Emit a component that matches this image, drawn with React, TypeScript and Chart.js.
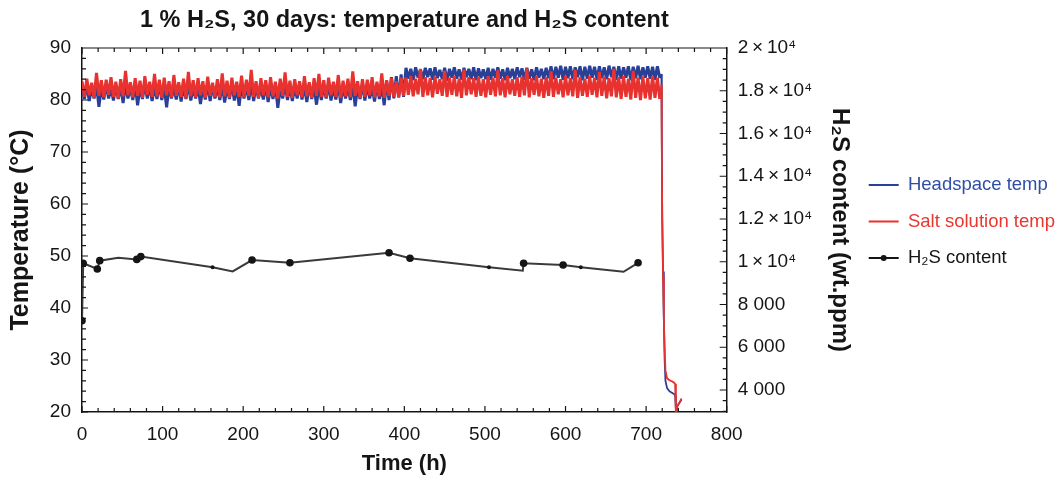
import { useEffect, useRef } from 'react';
import { Chart, registerables } from 'chart.js';

Chart.register(...registerables);

// ---------- data ----------
const sampleStepH = 3; // logged every 3 h, 0 .. 717 h

const saltTemp = [
  83.6, 80.6, 84.1, 80.9, 83.3, 80.4, 85.2, 80.8, 83.8, 80.5,
  83.9, 81.0, 84.4, 80.6, 83.5, 80.3, 84.0, 80.7, 85.6, 80.9,
  83.4, 80.5, 84.2, 80.8, 83.7, 80.4, 84.6, 81.0, 83.5, 80.6,
  85.0, 80.7, 83.9, 80.4, 84.3, 80.9, 83.6, 80.5, 84.8, 80.8,
  83.4, 80.6, 84.1, 80.3, 85.4, 80.7, 83.8, 80.5, 84.2, 80.9,
  83.6, 80.4, 84.5, 80.8, 83.3, 80.6, 84.0, 80.5, 85.1, 80.7,
  83.7, 80.4, 84.3, 80.9, 83.5, 80.6, 84.7, 80.5, 83.9, 80.8,
  85.8, 80.6, 83.6, 80.4, 84.2, 80.9, 83.8, 80.5, 84.4, 80.7,
  83.5, 80.3, 84.1, 80.8, 85.3, 80.6, 83.7, 80.4, 84.0, 80.9,
  83.6, 80.5, 84.6, 80.7, 83.4, 80.4, 84.2, 80.8, 85.0, 80.6,
  83.8, 80.5, 84.3, 80.9, 83.5, 80.6, 84.8, 80.4, 83.7, 80.7,
  84.1, 80.5, 85.5, 80.8, 83.6, 80.4, 84.0, 80.6, 83.9, 80.9,
  84.4, 80.5, 83.5, 80.7, 85.1, 80.4, 83.8, 80.8, 84.2, 80.6,
  83.6, 80.5, 84.3, 80.8,
  84.3, 81.0, 84.6, 80.7, 84.1, 81.1, 86.0, 80.6, 84.4, 80.9,
  84.2, 80.5, 84.5, 81.2, 84.0, 80.8, 85.6, 80.6, 84.3, 81.0,
  84.6, 80.7, 84.1, 80.4, 85.9, 80.9, 84.4, 81.1, 84.2, 80.6,
  84.5, 80.8, 84.0, 80.5, 84.6, 81.0, 84.3, 80.7, 85.7, 80.9,
  84.2, 80.5, 84.6, 81.1, 84.0, 80.8, 84.4, 80.6, 84.5, 80.9,
  86.1, 80.5, 84.2, 81.0, 84.6, 80.7, 84.1, 80.4, 84.4, 80.8,
  85.5, 80.6, 84.3, 81.1, 84.0, 80.5, 84.6, 80.9, 84.2, 80.7,
  85.8, 80.4, 84.4, 80.8, 84.1, 80.6, 84.6, 81.0, 84.3, 80.5,
  85.4, 80.8, 84.5, 80.3, 84.2, 80.7, 86.0, 80.5, 84.4, 80.2,
  84.6, 80.6, 84.1, 80.1, 85.6, 80.4, 84.3, 80.0, 84.5, 80.3,
  84.2, 80.1, 84.6, 80.4, 84.3, 80.2,
];

const headspaceTemp = [
  82.6, 80.2, 83.0, 79.8, 82.4, 80.3, 82.9, 78.7, 82.5, 80.1,
  83.1, 80.3, 82.3, 79.9, 82.8, 80.2, 82.6, 79.4, 83.0, 80.3,
  82.4, 80.0, 82.9, 79.0, 82.5, 80.2, 83.2, 80.3, 82.7, 79.8,
  82.5, 80.2, 83.0, 80.0, 82.6, 78.6, 82.8, 80.3, 82.3, 80.1,
  82.9, 79.7, 82.6, 80.2, 83.1, 79.9, 82.4, 80.3, 82.8, 79.2,
  82.5, 80.1, 83.0, 79.8, 82.7, 80.3, 82.4, 80.0, 82.9, 79.5,
  82.6, 80.2, 83.1, 79.9, 82.5, 78.9, 82.8, 80.3, 82.6, 80.0,
  83.0, 79.8, 82.7, 80.3, 82.4, 80.1, 82.9, 79.6, 82.6, 80.2,
  82.8, 78.5, 82.5, 80.3, 83.0, 80.0, 82.7, 79.8, 82.4, 80.3,
  82.9, 80.1, 82.6, 79.6, 83.1, 80.2, 82.5, 79.1, 82.8, 80.0,
  82.6, 80.3, 82.9, 79.9, 82.5, 80.1, 83.0, 79.4, 82.7, 80.3,
  82.4, 80.0, 82.8, 78.8, 82.6, 80.2, 83.2, 79.9, 82.9, 80.3,
  82.5, 79.7, 83.0, 80.2, 82.7, 79.0, 83.6, 80.0, 84.4, 80.3,
  84.6, 80.5, 84.9, 80.6,
  86.2, 84.1, 86.0, 83.8, 86.3, 84.3, 85.9, 84.0, 86.2, 84.4,
  86.1, 83.9, 86.3, 84.2, 85.8, 84.0, 86.2, 83.7, 86.0, 84.3,
  86.3, 84.1, 85.9, 83.9, 86.2, 84.4, 86.0, 84.0, 86.3, 83.8,
  86.1, 84.2, 85.9, 84.0, 86.2, 83.9, 86.0, 84.3, 86.3, 84.1,
  85.9, 83.8, 86.2, 84.2, 86.0, 84.0, 86.3, 84.4, 86.1, 83.9,
  86.2, 84.1, 85.9, 83.8, 86.3, 84.3, 86.0, 84.0, 86.2, 84.2,
  86.5, 84.0, 86.4, 84.3, 86.6, 83.9, 86.4, 84.2, 86.5, 84.0,
  86.3, 84.4, 86.5, 83.8, 86.4, 84.1, 86.6, 84.3, 86.4, 83.9,
  86.5, 84.2, 86.3, 84.0, 86.6, 84.4, 86.4, 83.9, 86.5, 84.1,
  86.3, 84.3, 86.5, 83.8, 86.4, 84.2, 86.6, 84.0, 86.3, 84.3,
  86.5, 84.1, 86.4, 83.9, 86.5, 84.2,
];

// cool-down at the end of the test
const tailTimeH = [719, 719.5, 720, 721, 722, 723, 724, 726, 729, 732, 735, 736, 737, 739, 742, 744];
const tailSaltTemp = [83.0, 70, 58, 46, 38, 32, 28, 26.5, 26.1, 25.9, 25.6, 25.4, 19.0, 21.2, 22.0, 22.6];
const tailHeadspaceTemp = [85.0, 72, 57, 47, 38, 30, 26, 24.6, 24.0, 23.7, 23.4, 23.2, 20.5, 21.2, 21.9, 22.4];

// H2S content (wt.ppm)
const h2sTimeH = [0, 1.5, 19, 22, 45, 68, 73, 162, 187, 211, 258, 381, 407, 505, 547, 548, 597, 619, 672, 690];
const h2sPpm = [7240, 9930, 9660, 10050, 10190, 10110, 10240, 9740, 9550, 10080, 9950, 10420, 10160, 9740, 9580, 9930, 9850, 9740, 9530, 9950];
const h2sUnmarked = [4, 8, 14, 18];
const h2sSmallMarked = [7, 13, 17];

const xTickStep = 100;
const xMinorStep = 20;
const tempTickStep = 10;
const tempMinorStep = 2;
const h2sTickValues = [4000, 6000, 8000, 10000, 12000, 14000, 16000, 18000, 20000];
const h2sTickLabels = [
  '4 000', '6 000', '8 000',
  '1\u2009×\u200910⁴', '1.2\u2009×\u200910⁴', '1.4\u2009×\u200910⁴',
  '1.6\u2009×\u200910⁴', '1.8\u2009×\u200910⁴', '2\u2009×\u200910⁴',
];
const h2sMinorStep = 500;

const BLUE = '#2a3f96';
const RED = '#e8322f';
const BLACK = '#151515';
const FONT = '"Liberation Sans", Arial, Helvetica, sans-serif';
const legendShift = 17;

const sampleTimeH = saltTemp.map((_, i) => i * sampleStepH);

const framePlugin = {
  id: 'frameTicks',
  afterLayout(chart: any) {
    const lg = chart.legend;
    if (lg) {
      lg.top -= legendShift;
      lg.bottom -= legendShift;
    }
  },
  afterDraw(chart: any) {
    const { ctx, chartArea: a, scales } = chart;
    ctx.save();
    ctx.strokeStyle = BLACK;
    ctx.lineWidth = 1.2;
    ctx.beginPath();
    ctx.moveTo(a.left, a.top);
    ctx.lineTo(a.right, a.top);
    for (let v = scales.x.min; v <= scales.x.max; v += xMinorStep) {
      const px = scales.x.getPixelForValue(v);
      const len = v % xTickStep === 0 ? 6 : 4;
      ctx.moveTo(px, a.bottom);
      ctx.lineTo(px, a.bottom - len);
      ctx.moveTo(px, a.top);
      ctx.lineTo(px, a.top + len);
    }
    for (let v = scales.y.min; v <= scales.y.max; v += tempMinorStep) {
      const py = scales.y.getPixelForValue(v);
      const len = v % tempTickStep === 0 ? 6 : 4;
      ctx.moveTo(a.left, py);
      ctx.lineTo(a.left + len, py);
    }
    const start = Math.ceil(scales.y2.min / h2sMinorStep) * h2sMinorStep;
    for (let v = start; v <= scales.y2.max; v += h2sMinorStep) {
      const py = scales.y2.getPixelForValue(v);
      const len = h2sTickValues.includes(v) ? 7 : 4;
      ctx.moveTo(a.right, py);
      ctx.lineTo(a.right - len, py);
    }
    ctx.stroke();
    const hb = chart.legend && chart.legend.legendHitBoxes && chart.legend.legendHitBoxes[2];
    if (hb) {
      ctx.fillStyle = BLACK;
      ctx.beginPath();
      ctx.arc(hb.left + 15, hb.top + hb.height / 2, 3, 0, Math.PI * 2);
      ctx.fill();
    }
    ctx.restore();
  },
};

export default function App() {
  const ref = useRef<HTMLCanvasElement | null>(null);

  useEffect(() => {
    if (!ref.current) return;
    Chart.defaults.font.family = FONT;

    const headData = sampleTimeH
      .map((t, i) => ({ x: t, y: headspaceTemp[i] }))
      .concat(tailTimeH.map((t, i) => ({ x: t, y: tailHeadspaceTemp[i] })));
    const saltData = sampleTimeH
      .map((t, i) => ({ x: t, y: saltTemp[i] }))
      .concat(tailTimeH.map((t, i) => ({ x: t, y: tailSaltTemp[i] })));
    const h2sData = h2sTimeH.map((t, i) => ({ x: t, y: h2sPpm[i] }));
    const noisyWidth = (c: any) => (c.p0.parsed.x >= sampleTimeH[sampleTimeH.length - 1] ? 1.8 : 3);

    const chart = new Chart(ref.current, {
      type: 'line',
      data: {
        datasets: [
          {
            label: 'Headspace temp',
            data: headData,
            yAxisID: 'y',
            borderColor: BLUE,
            backgroundColor: BLUE,
            borderWidth: 3,
            borderJoinStyle: 'bevel',
            segment: { borderWidth: noisyWidth },
            pointRadius: 0,
            order: 3,
          },
          {
            label: 'Salt solution temp',
            data: saltData,
            yAxisID: 'y',
            borderColor: RED,
            backgroundColor: RED,
            borderWidth: 3,
            borderJoinStyle: 'bevel',
            segment: { borderWidth: noisyWidth },
            pointRadius: 0,
            order: 2,
          },
          {
            label: 'H₂S content',
            data: h2sData,
            yAxisID: 'y2',
            borderColor: '#3a3a3a',
            backgroundColor: BLACK,
            borderWidth: 2,
            pointBackgroundColor: BLACK,
            pointBorderColor: BLACK,
            pointBorderWidth: 0,
            pointRadius: (c: any) =>
              h2sUnmarked.includes(c.dataIndex) ? 0 : h2sSmallMarked.includes(c.dataIndex) ? 2 : 3.8,
            order: 1,
          },
        ],
      },
      options: {
        responsive: false,
        animation: false,
        layout: { padding: { left: 0, right: -1, top: 0, bottom: 0 } },
        plugins: {
          tooltip: { enabled: false },
          title: {
            display: true,
            fullSize: false,
            text: '1 % H₂S, 30 days: temperature and H₂S content',
            color: BLACK,
            font: { size: 23.5, weight: 'bold', family: FONT },
            padding: { top: 6, bottom: 13.8 },
          },
          legend: {
            display: true,
            position: 'right',
            align: 'center',
            maxWidth: 320,
            labels: {
              font: { size: 18.5, family: FONT },
              padding: 18,
              boxWidth: 30,
              boxHeight: 2,
              generateLabels: () => [
                { text: 'Headspace temp', fillStyle: BLUE, strokeStyle: BLUE, lineWidth: 0, fontColor: '#2f4ea6', datasetIndex: 0, hidden: false },
                { text: 'Salt solution temp', fillStyle: RED, strokeStyle: RED, lineWidth: 0, fontColor: '#e8372f', datasetIndex: 1, hidden: false },
                { text: 'H₂S content', fillStyle: BLACK, strokeStyle: BLACK, lineWidth: 0, fontColor: BLACK, datasetIndex: 2, hidden: false },
              ] as any,
            },
          },
        },
        scales: {
          x: {
            type: 'linear',
            position: 'bottom',
            min: 0,
            max: 800,
            ticks: { stepSize: xTickStep, color: BLACK, font: { size: 19 }, padding: 11, maxRotation: 0, autoSkip: false },
            grid: { display: false, drawTicks: false },
            border: { display: true, color: BLACK, width: 1.5 },
            title: { display: true, text: 'Time (h)', color: BLACK, font: { size: 22, weight: 'bold' }, padding: { top: 2, bottom: 0 } },
            afterFit: (s: any) => { s.height = 65; },
          },
          y: {
            type: 'linear',
            position: 'left',
            min: 20,
            max: 90,
            ticks: { stepSize: tempTickStep, color: BLACK, font: { size: 19 }, padding: 11 },
            grid: { display: false, drawTicks: false },
            border: { display: true, color: BLACK, width: 1.5 },
            title: { display: true, text: 'Temperature (°C)', color: BLACK, font: { size: 25, weight: 'bold' }, padding: { top: 6, bottom: 0 } },
            afterFit: (s: any) => { s.width = 82; },
          },
          y2: {
            type: 'linear',
            position: 'right',
            min: 2970,
            max: 20000,
            afterBuildTicks: (s: any) => { s.ticks = h2sTickValues.map((v) => ({ value: v })); },
            ticks: {
              color: BLACK,
              font: { size: 19 },
              padding: 11,
              callback: (v: any) => {
                const i = h2sTickValues.indexOf(Number(v));
                return i >= 0 ? h2sTickLabels[i] : '';
              },
            },
            grid: { display: false, drawTicks: false },
            border: { display: true, color: BLACK, width: 1.5 },
            title: { display: true, text: 'H₂S content (wt.ppm)', color: BLACK, font: { size: 24, weight: 'bold' }, padding: { top: -3, bottom: 0 } },
            afterFit: (s: any) => { s.width = 124; },
          },
        },
      } as any,
      plugins: [framePlugin],
    });
    return () => chart.destroy();
  }, []);

  return (
    <div style={{ position: 'fixed', left: 0, top: 0, width: 1064, height: 477, background: '#fff' }}>
      <canvas ref={ref} width={1064} height={477} />
    </div>
  );
}
